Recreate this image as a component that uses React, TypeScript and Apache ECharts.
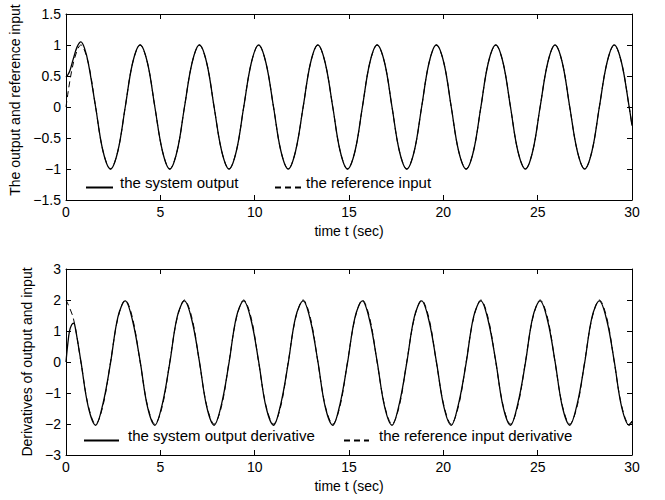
import React, { useEffect, useRef } from "react";
import * as echarts from "echarts";

// time samples (s)
const tGrid = [
  0, 0.39, 0.79, 1.18, 1.57, 1.96, 2.36, 2.75,
  3.14, 3.53, 3.93, 4.32, 4.71, 5.11, 5.5, 5.89,
  6.28, 6.68, 7.07, 7.46, 7.85, 8.25, 8.64, 9.03,
  9.42, 9.82, 10.21, 10.6, 11.0, 11.39, 11.78, 12.17,
  12.57, 12.96, 13.35, 13.74, 14.14, 14.53, 14.92, 15.32,
  15.71, 16.1, 16.49, 16.89, 17.28, 17.67, 18.06, 18.46,
  18.85, 19.24, 19.63, 20.03, 20.42, 20.81, 21.21, 21.6,
  21.99, 22.38, 22.78, 23.17, 23.56, 23.95, 24.35, 24.74,
  25.13, 25.53, 25.92, 26.31, 26.7, 27.1, 27.49, 27.88,
  28.27, 28.67, 29.06, 29.45, 29.85, 30,
];

// reference input (top, dashed)
const refInput = [
  0, 0.71, 1, 0.71, 0, -0.71, -1, -0.71,
  0, 0.71, 1, 0.71, 0, -0.71, -1, -0.71,
  0, 0.71, 1, 0.71, 0, -0.71, -1, -0.71,
  0, 0.71, 1, 0.71, 0, -0.71, -1, -0.71,
  0, 0.71, 1, 0.71, 0, -0.71, -1, -0.71,
  0, 0.71, 1, 0.71, 0, -0.71, -1, -0.71,
  0, 0.71, 1, 0.71, 0, -0.71, -1, -0.71,
  0, 0.71, 1, 0.71, 0, -0.71, -1, -0.71,
  0, 0.71, 1, 0.71, 0, -0.71, -1, -0.71,
  0, 0.71, 1, 0.71, 0, -0.3,
];

// system output transient (top, solid); afterwards it lies on the reference
const outStartT = [0, 0.1, 0.2, 0.39, 0.59, 0.79, 0.98, 1.18];
const outStart = [0.48, 0.52, 0.58, 0.78, 0.97, 1.05, 0.95, 0.71];

// reference input derivative (bottom, dashed)
const refDerivative = [
  2, 1.41, 0, -1.41, -2, -1.41, 0, 1.41,
  2, 1.41, 0, -1.41, -2, -1.41, 0, 1.41,
  2, 1.41, 0, -1.41, -2, -1.41, 0, 1.41,
  2, 1.41, 0, -1.41, -2, -1.41, 0, 1.41,
  2, 1.41, 0, -1.41, -2, -1.41, 0, 1.41,
  2, 1.41, 0, -1.41, -2, -1.41, 0, 1.41,
  2, 1.41, 0, -1.41, -2, -1.41, 0, 1.41,
  2, 1.41, 0, -1.41, -2, -1.41, 0, 1.41,
  2, 1.41, 0, -1.41, -2, -1.41, 0, 1.41,
  2, 1.41, 0, -1.41, -2, -1.9,
];

// system output derivative (bottom, solid)
const derivStartT = [0, 0.08, 0.18, 0.3, 0.41, 0.5];
const derivStart = [0, 0.5, 0.98, 1.2, 1.25, 1.08];
const derivTail = [
  0.02, -1.45, -2.04, -1.34, -0.03, 1.45,
  1.97, 1.33, 0.02, -1.45, -2.04, -1.34, -0.03, 1.45,
  1.97, 1.33, 0.02, -1.45, -2.04, -1.34, -0.03, 1.45,
  1.97, 1.33, 0.02, -1.45, -2.04, -1.34, -0.03, 1.45,
  1.97, 1.33, 0.02, -1.45, -2.04, -1.34, -0.03, 1.45,
  1.97, 1.33, 0.02, -1.45, -2.04, -1.34, -0.03, 1.45,
  1.97, 1.33, 0.02, -1.45, -2.04, -1.34, -0.03, 1.45,
  1.97, 1.33, 0.02, -1.45, -2.04, -1.34, -0.03, 1.45,
  1.97, 1.33, 0.02, -1.45, -2.04, -1.34, -0.03, 1.45,
  1.97, 1.33, 0.02, -1.45, -2.04, -1.92,
];

const xTicks = { min: 0, max: 30, interval: 5 };
const yTop = { min: -1.5, max: 1.5, interval: 0.5 };
const yBottom = { min: -3, max: 3, interval: 1 };

const FONT = "Liberation Sans, Arial, Helvetica, sans-serif";

export default function App() {
  const ref = useRef<HTMLDivElement>(null);

  useEffect(() => {
    document.body.style.margin = "0";
    if (!ref.current) return;
    const chart = echarts.init(ref.current, undefined, { renderer: "svg" });

    const zip = (ts: number[], ys: number[]) => ts.map((t, i) => [t, ys[i]]);
    const sysOut = zip(outStartT, outStart).concat(zip(tGrid.slice(4), refInput.slice(4)));
    const refIn = zip(tGrid, refInput);
    const sysDer = zip(derivStartT, derivStart).concat(zip(tGrid.slice(2), derivTail));
    const refDer = zip(tGrid, refDerivative);

    const minus = (v: number) => String(v).replace("-", "\u2212");
    const axisLine = { show: true, onZero: false, lineStyle: { color: "#000", width: 1 } };
    const axisTick = { show: true, inside: true, length: 5, lineStyle: { color: "#000", width: 1 } };
    const label = { color: "#000", fontSize: 14, fontFamily: FONT, margin: 5, formatter: minus };
    const nameStyle = { color: "#000", fontSize: 14, fontFamily: FONT };

    const xAx = (gridIndex: number, position: string, show: boolean) => ({
      type: "value",
      gridIndex,
      position,
      ...xTicks,
      axisLine,
      axisTick,
      axisLabel: { ...label, show },
      splitLine: { show: false },
      name: show ? "time t (sec)" : "",
      nameLocation: "middle",
      nameGap: 24,
      nameTextStyle: nameStyle,
    });
    const yAx = (gridIndex: number, position: string, show: boolean, range: any, name: string, pad: number) => ({
      type: "value",
      gridIndex,
      position,
      ...range,
      axisLine,
      axisTick,
      axisLabel: { ...label, show },
      splitLine: { show: false },
      name: show ? name : "",
      nameLocation: "middle",
      nameGap: 29,
      nameTextStyle: { ...nameStyle, padding: [0, 0, 0, pad] },
    });

    const solid = { color: "#000", width: 1.3, type: "solid" };
    const dashed = { color: "#000", width: 1, type: [6, 4] };
    const line = (name: string, data: number[][], idx: number, ls: any) => ({
      type: "line",
      name,
      data,
      xAxisIndex: idx * 2,
      yAxisIndex: idx * 2,
      symbol: "none",
      showSymbol: false,
      smooth: 0.35,
      lineStyle: ls,
      itemStyle: { color: "#000" },
      emphasis: { disabled: true },
    });

    const legend = (name: string, left: number, top: number, w: number, padLeft: number) => ({
      data: [name],
      left,
      top,
      itemWidth: w,
      itemHeight: 10,
      selectedMode: false,
      padding: 0,
      itemStyle: { opacity: 0 },
      formatter: "{a|{name}}",
      textStyle: {
        color: "#000",
        fontSize: 15,
        fontFamily: FONT,
        rich: {
          a: { color: "#000", fontSize: 15, fontFamily: FONT, padding: [0, 0, 10, padLeft] },
        },
      },
    });

    chart.setOption({
      animation: false,
      backgroundColor: "#fff",
      grid: [
        { left: 66, top: 14, width: 566, height: 186 },
        { left: 66, top: 269, width: 566, height: 186 },
      ],
      xAxis: [xAx(0, "bottom", true), xAx(0, "top", false), xAx(1, "bottom", true), xAx(1, "top", false)],
      yAxis: [
        yAx(0, "left", true, yTop, "The output and reference input", 14),
        yAx(0, "right", false, yTop, "", 0),
        yAx(1, "left", true, yBottom, "Derivatives of output and input", 0),
        yAx(1, "right", false, yBottom, "", 0),
      ],
      legend: [
        legend("the system output", 85, 175, 27, 2),
        legend("the reference input", 274, 175, 26, 0),
        legend("the system output derivative", 83, 428, 35, 4),
        legend("the reference input derivative", 343, 428, 25, 5),
      ],
      series: [
        line("the system output", sysOut, 0, solid),
        line("the reference input", refIn, 0, dashed),
        line("the system output derivative", sysDer, 1, solid),
        line("the reference input derivative", refDer, 1, dashed),
      ],
    });

    return () => chart.dispose();
  }, []);

  return <div ref={ref} style={{ width: 665, height: 500 }} />;
}
